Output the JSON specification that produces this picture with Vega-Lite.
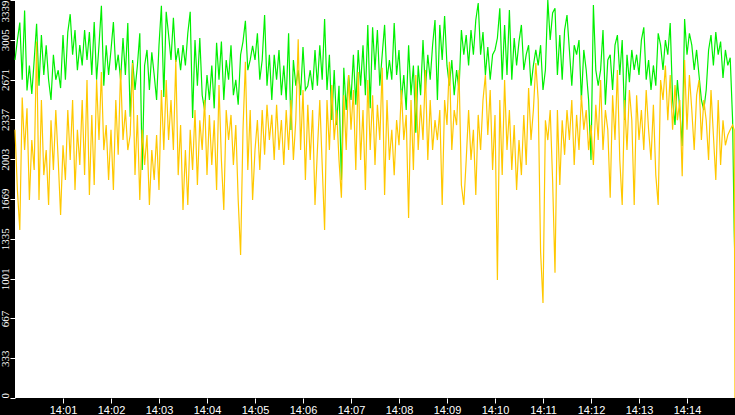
{
  "$schema": "https://vega.github.io/schema/vega-lite/v6.json",
  "width": 720,
  "height": 398,
  "autosize": {"type": "none"},
  "padding": {"left": 15, "top": 0, "right": 0, "bottom": 17},
  "background": "black",
  "config": {
    "view": {"fill": "white", "stroke": null},
    "axis": {
      "grid": false,
      "domain": false,
      "title": null,
      "tickColor": "white",
      "tickSize": 5,
      "labelColor": "white",
      "labelFontSize": 11
    },
    "axisY": {
      "format": "d",
      "labelOverlap": false,
      "labelAngle": 270,
      "labelFont": "Liberation Sans Narrow",
      "labelFontSize": 11,
      "labelPadding": 0,
      "labelFlush": false,
      "labelBound": false,
      "labelAlign": {
        "condition": [
          {"test": "datum.value >= 3339", "value": "right"},
          {"test": "datum.value <= 0", "value": "left"}
        ],
        "value": "center"
      }
    }
  },
  "data": {
    "values": [
      {"t":0,"g":2836,"y":2250},{"t":3,"g":3003,"y":1745},{"t":6,"g":3150,"y":1409},{"t":9,"g":2670,"y":2520},{"t":12,"g":3250,"y":2080},
      {"t":15,"g":2580,"y":2430},{"t":18,"g":2790,"y":1661},{"t":21,"g":2550,"y":2164},{"t":24,"g":2836,"y":1913},{"t":27,"g":3140,"y":2990},
      {"t":30,"g":2620,"y":1661},{"t":33,"g":3045,"y":2500},{"t":36,"g":2710,"y":1870},{"t":39,"g":2960,"y":2080},{"t":42,"g":2670,"y":1620},
      {"t":45,"g":2500,"y":2330},{"t":48,"g":2880,"y":1913},{"t":51,"g":2670,"y":2416},{"t":54,"g":2750,"y":1997},{"t":57,"g":2600,"y":1535},
      {"t":60,"g":3045,"y":2120},{"t":63,"g":2670,"y":1829},{"t":66,"g":3070,"y":2416},{"t":69,"g":3220,"y":1997},{"t":72,"g":2880,"y":2500},
      {"t":75,"g":3087,"y":1745},{"t":78,"g":2750,"y":2250},{"t":81,"g":2960,"y":1955},{"t":84,"g":2790,"y":2500},{"t":87,"g":3087,"y":1870},
      {"t":90,"g":2836,"y":2668},{"t":93,"g":3070,"y":1703},{"t":96,"g":2710,"y":2375},{"t":99,"g":3155,"y":1787},{"t":102,"g":2670,"y":2668},
      {"t":105,"g":2960,"y":2164},{"t":108,"g":3290,"y":2735},{"t":111,"g":2620,"y":2080},{"t":114,"g":2960,"y":2290},{"t":117,"g":2710,"y":1829},
      {"t":120,"g":2920,"y":2250},{"t":123,"g":3155,"y":1745},{"t":126,"g":2750,"y":2500},{"t":129,"g":2880,"y":2040},{"t":132,"g":2670,"y":2752},
      {"t":135,"g":3020,"y":2164},{"t":138,"g":2710,"y":2416},{"t":141,"g":3145,"y":2080},{"t":144,"g":2360,"y":2206},{"t":147,"g":2836,"y":2810},
      {"t":150,"g":2584,"y":1870},{"t":153,"g":2790,"y":2375},{"t":156,"g":3060,"y":1661},{"t":159,"g":1913,"y":2250},{"t":162,"g":2790,"y":1955},
      {"t":165,"g":2920,"y":2206},{"t":168,"g":2584,"y":1620},{"t":171,"g":2900,"y":2080},{"t":174,"g":2710,"y":1829},{"t":177,"g":2500,"y":2206},
      {"t":180,"g":2960,"y":1745},{"t":183,"g":3290,"y":2584},{"t":186,"g":2525,"y":2080},{"t":189,"g":3240,"y":2668},{"t":192,"g":3045,"y":2164},
      {"t":195,"g":2836,"y":2500},{"t":198,"g":3190,"y":2080},{"t":201,"g":2820,"y":2836},{"t":204,"g":2935,"y":1870},{"t":207,"g":2750,"y":2290},
      {"t":210,"g":2960,"y":1577},{"t":213,"g":2790,"y":2080},{"t":216,"g":3060,"y":1620},{"t":219,"g":3240,"y":2250},{"t":222,"g":2350,"y":1913},
      {"t":225,"g":3003,"y":2416},{"t":228,"g":2620,"y":1787},{"t":231,"g":3020,"y":2330},{"t":234,"g":2540,"y":2080},{"t":237,"g":2416,"y":2500},
      {"t":240,"g":2710,"y":1870},{"t":243,"g":2500,"y":2375},{"t":246,"g":2790,"y":1955},{"t":249,"g":2430,"y":2330},{"t":252,"g":2980,"y":1745},
      {"t":255,"g":2670,"y":2626},{"t":258,"g":2990,"y":1997},{"t":261,"g":2500,"y":1577},{"t":264,"g":2836,"y":2416},{"t":267,"g":2670,"y":2164},
      {"t":270,"g":2960,"y":2375},{"t":273,"g":2540,"y":1955},{"t":276,"g":2670,"y":2290},{"t":279,"g":2460,"y":1661},{"t":282,"g":2880,"y":1200},
      {"t":285,"g":2990,"y":2250},{"t":288,"g":3165,"y":2820},{"t":291,"g":2750,"y":1913},{"t":294,"g":2836,"y":2416},{"t":297,"g":2955,"y":1661},
      {"t":300,"g":2836,"y":2080},{"t":303,"g":3060,"y":2332},{"t":306,"g":2670,"y":1913},{"t":309,"g":2836,"y":2416},{"t":312,"g":3213,"y":2040},
      {"t":315,"g":2620,"y":2460},{"t":318,"g":2880,"y":2164},{"t":321,"g":2500,"y":2375},{"t":324,"g":2880,"y":1997},{"t":327,"g":2670,"y":2460},
      {"t":330,"g":2920,"y":2080},{"t":333,"g":2540,"y":2332},{"t":336,"g":2790,"y":1955},{"t":339,"g":2500,"y":2416},{"t":342,"g":3060,"y":2080},
      {"t":345,"g":2248,"y":2500},{"t":348,"g":2836,"y":1997},{"t":351,"g":2620,"y":2332},{"t":354,"g":2750,"y":3010},{"t":357,"g":2540,"y":2080},
      {"t":360,"g":2945,"y":2584},{"t":363,"g":2584,"y":1829},{"t":366,"g":2620,"y":2460},{"t":369,"g":2750,"y":1997},{"t":372,"g":2584,"y":2416},
      {"t":375,"g":2920,"y":1620},{"t":378,"g":2620,"y":2080},{"t":381,"g":2960,"y":2500},{"t":384,"g":2670,"y":1955},{"t":387,"g":3180,"y":1409},
      {"t":390,"g":2584,"y":2500},{"t":393,"g":2880,"y":2080},{"t":396,"g":2332,"y":2626},{"t":399,"g":2752,"y":2164},{"t":402,"g":2290,"y":2416},
      {"t":405,"g":2620,"y":1997},{"t":408,"g":1829,"y":1680},{"t":411,"g":2770,"y":2540},{"t":414,"g":2416,"y":2080},{"t":417,"g":2710,"y":2710},
      {"t":420,"g":2500,"y":2250},{"t":423,"g":2880,"y":2584},{"t":426,"g":2460,"y":1913},{"t":429,"g":2920,"y":2735},{"t":432,"g":2620,"y":1997},
      {"t":435,"g":2960,"y":2416},{"t":438,"g":2540,"y":1745},{"t":441,"g":3130,"y":2668},{"t":444,"g":2430,"y":2080},{"t":447,"g":3110,"y":2540},
      {"t":450,"g":2752,"y":1955},{"t":453,"g":3087,"y":2460},{"t":456,"g":2620,"y":2164},{"t":459,"g":2880,"y":2770},{"t":462,"g":3130,"y":1703},
      {"t":465,"g":2670,"y":2500},{"t":468,"g":2836,"y":1997},{"t":471,"g":2670,"y":2250},{"t":474,"g":3145,"y":1870},{"t":477,"g":2710,"y":2332},
      {"t":480,"g":2920,"y":2120},{"t":483,"g":2500,"y":2584},{"t":486,"g":2710,"y":2164},{"t":489,"g":2416,"y":2375},{"t":492,"g":2960,"y":1510},
      {"t":495,"g":2540,"y":2500},{"t":498,"g":2790,"y":1913},{"t":501,"g":2225,"y":2710},{"t":504,"g":2790,"y":2080},{"t":507,"g":2540,"y":2460},
      {"t":510,"g":3003,"y":2164},{"t":513,"g":2584,"y":2752},{"t":516,"g":2880,"y":1997},{"t":519,"g":2670,"y":2500},{"t":522,"g":2960,"y":2080},
      {"t":525,"g":3171,"y":2332},{"t":528,"g":2500,"y":2164},{"t":531,"g":3130,"y":2416},{"t":534,"g":2836,"y":1620},{"t":537,"g":3205,"y":2500},
      {"t":540,"g":2790,"y":2290},{"t":543,"g":2620,"y":2820},{"t":546,"g":2836,"y":2080},{"t":549,"g":2540,"y":2416},{"t":552,"g":2752,"y":2290},
      {"t":555,"g":2584,"y":2752},{"t":558,"g":3087,"y":1787},{"t":561,"g":2880,"y":1620},{"t":564,"g":3045,"y":1997},{"t":567,"g":2790,"y":2416},
      {"t":570,"g":3087,"y":1997},{"t":573,"g":2880,"y":2250},{"t":576,"g":3171,"y":1703},{"t":579,"g":3314,"y":2375},{"t":582,"g":2880,"y":2080},
      {"t":585,"g":3070,"y":2500},{"t":588,"g":2710,"y":2710},{"t":591,"g":2945,"y":2206},{"t":594,"g":2670,"y":2584},{"t":597,"g":2880,"y":1913},
      {"t":600,"g":2920,"y":2375},{"t":603,"g":3020,"y":990},{"t":606,"g":3270,"y":2500},{"t":609,"g":2670,"y":1870},{"t":612,"g":3130,"y":2668},
      {"t":615,"g":2710,"y":2080},{"t":618,"g":3255,"y":2416},{"t":621,"g":2670,"y":1913},{"t":624,"g":3020,"y":2290},{"t":627,"g":2790,"y":1745},
      {"t":630,"g":2990,"y":2164},{"t":633,"g":3130,"y":1870},{"t":636,"g":2752,"y":2375},{"t":639,"g":2880,"y":1955},{"t":642,"g":2960,"y":2600},
      {"t":645,"g":2620,"y":2164},{"t":648,"g":2790,"y":2416},{"t":651,"g":2920,"y":2810},{"t":654,"g":2790,"y":2500},{"t":657,"g":2960,"y":1225},
      {"t":660,"g":2584,"y":797},{"t":663,"g":2752,"y":2330},{"t":666,"g":3339,"y":2164},{"t":669,"g":3003,"y":2416},{"t":672,"g":3230,"y":1829},
      {"t":675,"g":3270,"y":1050},{"t":678,"g":2710,"y":2416},{"t":681,"g":3045,"y":1787},{"t":684,"g":2670,"y":2330},{"t":687,"g":3087,"y":2040},
      {"t":690,"g":3213,"y":2416},{"t":693,"g":2920,"y":2164},{"t":696,"g":2620,"y":2500},{"t":699,"g":2960,"y":1955},{"t":702,"g":2880,"y":2375},
      {"t":705,"g":3003,"y":2080},{"t":708,"g":2500,"y":2540},{"t":711,"g":2920,"y":2250},{"t":714,"g":2752,"y":2416},{"t":717,"g":2500,"y":2080},
      {"t":720,"g":1997,"y":2290},{"t":723,"g":3297,"y":1955},{"t":726,"g":2752,"y":2460},{"t":729,"g":2620,"y":2164},{"t":732,"g":2752,"y":2668},
      {"t":735,"g":3087,"y":2080},{"t":738,"g":2460,"y":2416},{"t":741,"g":2836,"y":2250},{"t":744,"g":2880,"y":1680},{"t":747,"g":2584,"y":2540},
      {"t":750,"g":2960,"y":2164},{"t":753,"g":3045,"y":2752},{"t":756,"g":2710,"y":1997},{"t":759,"g":3003,"y":1620},{"t":762,"g":2332,"y":2500},
      {"t":765,"g":2880,"y":2080},{"t":768,"g":2650,"y":2584},{"t":771,"g":2920,"y":2330},{"t":774,"g":2752,"y":1620},{"t":777,"g":2880,"y":2540},
      {"t":780,"g":2710,"y":2164},{"t":783,"g":3003,"y":2416},{"t":786,"g":3110,"y":2080},{"t":789,"g":2670,"y":2584},{"t":792,"g":2836,"y":2250},
      {"t":795,"g":2584,"y":1997},{"t":798,"g":2790,"y":2460},{"t":801,"g":2620,"y":1870},{"t":804,"g":3060,"y":1620},{"t":807,"g":2960,"y":2668},
      {"t":810,"g":2752,"y":2500},{"t":813,"g":3003,"y":2790},{"t":816,"g":2880,"y":2330},{"t":819,"g":3145,"y":2710},{"t":822,"g":2500,"y":2250},
      {"t":825,"g":2290,"y":2626},{"t":828,"g":2668,"y":2330},{"t":831,"g":2416,"y":2500},{"t":834,"g":2115,"y":1860},{"t":837,"g":3180,"y":2836},
      {"t":840,"g":2880,"y":2250},{"t":843,"g":3060,"y":2710},{"t":846,"g":2960,"y":2416},{"t":849,"g":2752,"y":2080},{"t":852,"g":2920,"y":2540},
      {"t":855,"g":2710,"y":2668},{"t":858,"g":2500,"y":2164},{"t":861,"g":2416,"y":2500},{"t":864,"g":2584,"y":2330},{"t":867,"g":2920,"y":1997},
      {"t":870,"g":3045,"y":2584},{"t":873,"g":2790,"y":2206},{"t":876,"g":3070,"y":1829},{"t":879,"g":2880,"y":2500},{"t":882,"g":2990,"y":1955},
      {"t":885,"g":2685,"y":2330},{"t":888,"g":2920,"y":2120},{"t":891,"g":2790,"y":2206},{"t":894,"g":2855,"y":2250},{"t":897,"g":2332,"y":2290},
      {"t":899,"g":1409,"y":2250},{"t":900,"g":1100,"y":0}
    ]
  },
  "encoding": {
    "x": {
      "field": "t",
      "type": "quantitative",
      "scale": {"domain": [0, 900], "nice": false},
      "axis": {
        "values": [60, 120, 180, 240, 300, 360, 420, 480, 540, 600, 660, 720, 780, 840],
        "labelExpr": "'14:' + pad(toString(datum.value / 60), 2, '0', 'left')",
        "labelFont": "Liberation Sans",
        "labelPadding": 1
      }
    }
  },
  "layer": [
    {
      "mark": {"type": "line", "color": "#00f000", "strokeWidth": 1.2, "interpolate": "linear"},
      "encoding": {
        "y": {
          "field": "g",
          "type": "quantitative",
          "scale": {"domain": [0, 3339], "nice": false},
          "axis": {"values": [0, 333, 667, 1001, 1335, 1669, 2003, 2337, 2671, 3005, 3339], "labelOverlap": false}
        }
      }
    },
    {
      "mark": {"type": "line", "color": "#ffc800", "strokeWidth": 1.2, "interpolate": "linear"},
      "encoding": {
        "y": {
          "field": "y",
          "type": "quantitative",
          "axis": {"values": [0, 333, 667, 1001, 1335, 1669, 2003, 2337, 2671, 3005, 3339], "labelOverlap": false}
        }
      }
    }
  ]
}
